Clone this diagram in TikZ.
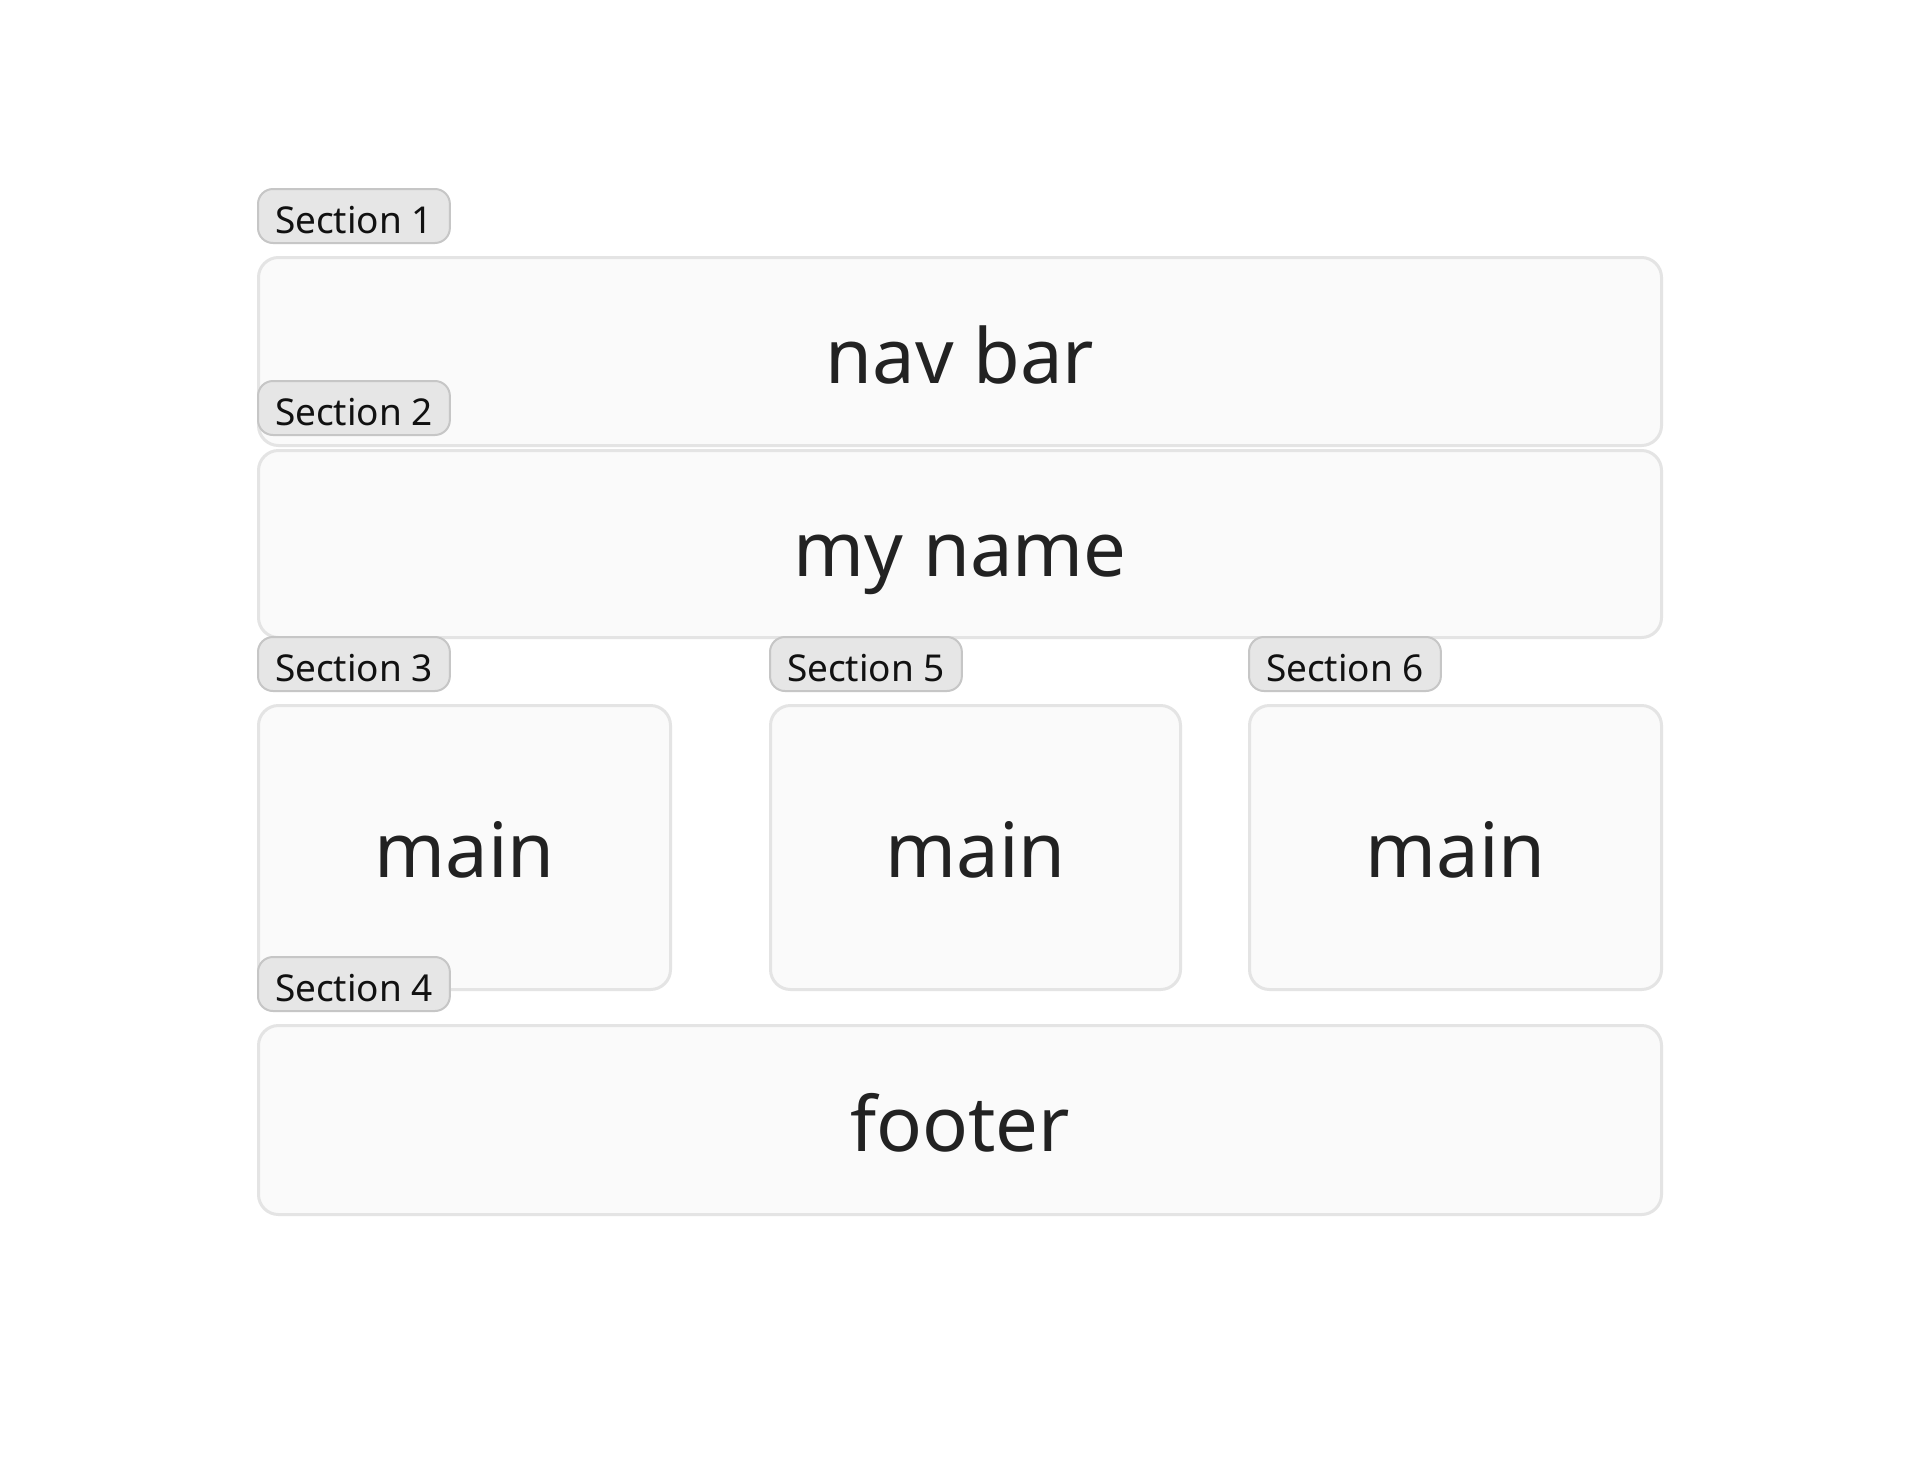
\documentclass[tikz,border=0pt]{standalone}
\usepackage{fontspec}
\setmainfont{Noto Sans}
\definecolor{boxline}{HTML}{E4E4E4}
\definecolor{boxfill}{HTML}{FAFAFA}
\definecolor{tabfill}{HTML}{E6E6E6}
\definecolor{tabline}{HTML}{C6C6C6}
\definecolor{textdark}{HTML}{222222}
\definecolor{tabtext}{HTML}{111111}
\tikzset{
  box/.style={draw=boxline, fill=boxfill, line width=1.5pt, rounded corners=10pt, inner sep=0pt, outer sep=0pt, anchor=north west},
  tab/.style={draw=tabline, fill=tabfill, line width=1pt, rounded corners=7.5pt, inner xsep=8.5pt, inner ysep=0pt, outer sep=0pt,
    anchor=north west, minimum height=27pt, text height=17pt, text depth=0pt, text=tabtext, font=\fontsize{18.5}{20}\selectfont},
  big/.style={anchor=base, text=textdark, font=\fontsize{38}{42}\selectfont, inner sep=0pt},
}
\begin{document}
\begin{tikzpicture}[x=0.5pt,y=-0.5pt]
\useasboundingbox[fill=white] (0,0) rectangle (1920,1472);
% row 1
\node[tab] (t1) at (258,189) {Section 1};
\node[box, minimum width=701.5pt, minimum height=94pt] (nav) at (258.5,257.5) {};
\node[big] (navt) at ([yshift=-16pt]nav.center) {nav bar};
\node[tab] (t2) at (258,381) {Section 2};
% row 2
\node[box, minimum width=701.5pt, minimum height=93.5pt] (name) at (258.5,450.5) {};
\node[big] (namet) at ([yshift=-16pt]name.center) {my name};
% row 3
\node[tab] (t3) at (258,637) {Section 3};
\node[tab] (t5) at (770,637) {Section 5};
\node[tab] (t6) at (1249,637) {Section 6};
\node[box, minimum width=206pt, minimum height=142pt] (m1) at (258.5,705.5) {};
\node[big] (m1t) at ([yshift=-15pt]m1.center) {main};
\node[box, minimum width=205pt, minimum height=142pt] (m2) at (770.5,705.5) {};
\node[big] (m2t) at ([yshift=-15pt]m2.center) {main};
\node[box, minimum width=206pt, minimum height=142pt] (m3) at (1249.5,705.5) {};
\node[big] (m3t) at ([yshift=-15pt]m3.center) {main};
% row 4
\node[tab] (t4) at (258,957) {Section 4};
\node[box, minimum width=701.5pt, minimum height=94.5pt] (foot) at (258.5,1025.5) {};
\node[big] (foott) at ([yshift=-15.5pt]foot.center) {footer};
\end{tikzpicture}
\end{document}
